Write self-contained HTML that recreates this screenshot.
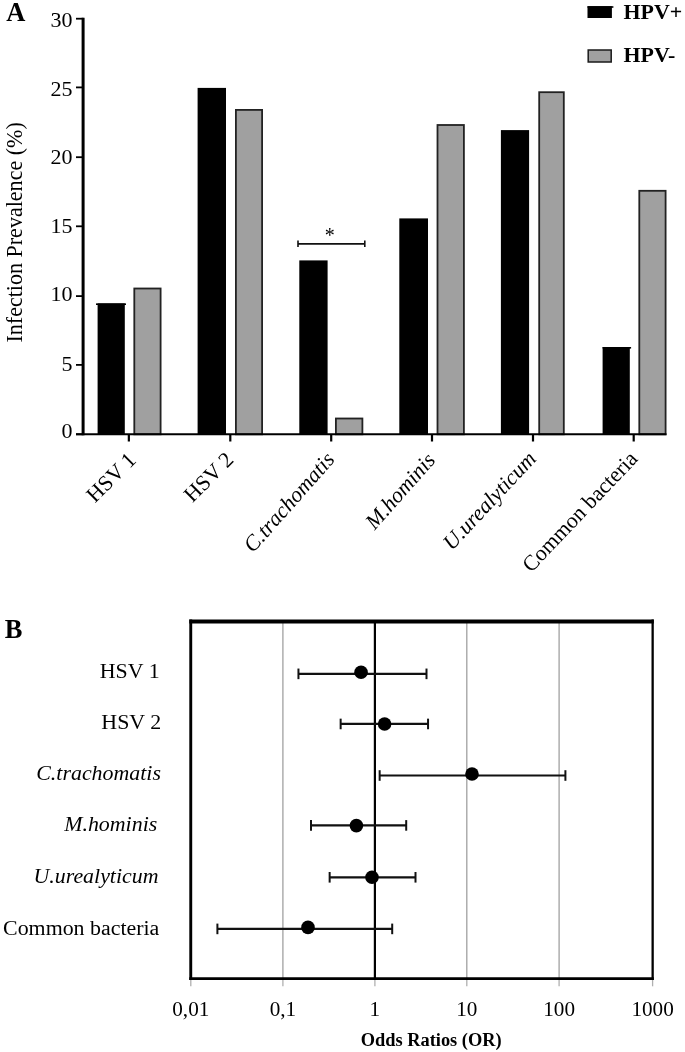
<!DOCTYPE html>
<html><head><meta charset="utf-8"><style>
html,body{margin:0;padding:0;background:#fff;}
body{width:685px;height:1052px;overflow:hidden;font-family:"Liberation Serif",serif;}
svg{display:block;filter:blur(0.3px);}
</style></head><body>
<svg width="685" height="1052" viewBox="0 0 685 1052" font-family="Liberation Serif, serif">
<rect width="685" height="1052" fill="#fff"/>
<text x="6.2" y="20.9" font-size="26.5" font-weight="bold">A</text>
<rect x="587.5" y="6.2" width="24.4" height="11.8" fill="#000"/>
<rect x="587.5" y="6.2" width="25.9" height="1.6" fill="#000"/>
<rect x="588.2" y="50" width="23" height="12" fill="#a0a0a0" stroke="#1a1a1a" stroke-width="1.5"/>
<text x="623.5" y="19.3" font-size="21.9" font-weight="bold">HPV+</text>
<text x="623.5" y="62.2" font-size="21.9" font-weight="bold">HPV-</text>
<rect x="97.6" y="303.4" width="27.20" height="130.90" fill="#000"/>
<rect x="96" y="303.4" width="30" height="1.6" fill="#000"/>
<rect x="134.30" y="288.50" width="26.30" height="145.80" fill="#a0a0a0" stroke="#222" stroke-width="1.8"/>
<rect x="197.6" y="87.9" width="28.40" height="346.40" fill="#000"/>
<rect x="235.90" y="109.90" width="26.20" height="324.40" fill="#a0a0a0" stroke="#222" stroke-width="1.8"/>
<rect x="299.3" y="260.4" width="28.30" height="173.90" fill="#000"/>
<rect x="335.90" y="418.50" width="26.50" height="15.80" fill="#a0a0a0" stroke="#222" stroke-width="1.8"/>
<rect x="399.3" y="218.4" width="28.70" height="215.90" fill="#000"/>
<rect x="437.50" y="125.00" width="26.40" height="309.30" fill="#a0a0a0" stroke="#222" stroke-width="1.8"/>
<rect x="500.9" y="130.1" width="28.20" height="304.20" fill="#000"/>
<rect x="539.20" y="92.20" width="24.60" height="342.10" fill="#a0a0a0" stroke="#222" stroke-width="1.8"/>
<rect x="602.6" y="347" width="27.20" height="87.30" fill="#000"/>
<rect x="602.6" y="347" width="28.50" height="1.6" fill="#000"/>
<rect x="639.30" y="190.80" width="26.30" height="243.50" fill="#a0a0a0" stroke="#222" stroke-width="1.8"/>
<line x1="83.1" y1="17.8" x2="83.1" y2="435.3" stroke="#000" stroke-width="3"/>
<line x1="76" y1="434.3" x2="666.5" y2="434.3" stroke="#000" stroke-width="2"/>
<line x1="76" y1="434.30" x2="83.5" y2="434.30" stroke="#000" stroke-width="1.8"/>
<text x="72.6" y="437.85" font-size="22" text-anchor="end">0</text>
<line x1="76" y1="364.90" x2="83.5" y2="364.90" stroke="#000" stroke-width="1.8"/>
<text x="72.6" y="370.70" font-size="22" text-anchor="end">5</text>
<line x1="76" y1="296.10" x2="83.5" y2="296.10" stroke="#000" stroke-width="1.8"/>
<text x="72.6" y="300.85" font-size="22" text-anchor="end">10</text>
<line x1="76" y1="226.30" x2="83.5" y2="226.30" stroke="#000" stroke-width="1.8"/>
<text x="72.6" y="232.60" font-size="22" text-anchor="end">15</text>
<line x1="76" y1="157.20" x2="83.5" y2="157.20" stroke="#000" stroke-width="1.8"/>
<text x="72.6" y="164.35" font-size="22" text-anchor="end">20</text>
<line x1="76" y1="87.40" x2="83.5" y2="87.40" stroke="#000" stroke-width="1.8"/>
<text x="72.6" y="95.55" font-size="22" text-anchor="end">25</text>
<line x1="76" y1="18.70" x2="83.5" y2="18.70" stroke="#000" stroke-width="1.8"/>
<text x="72.6" y="26.60" font-size="22" text-anchor="end">30</text>
<line x1="128.85" y1="434" x2="128.85" y2="441.5" stroke="#000" stroke-width="2.2"/>
<line x1="230.30" y1="434" x2="230.30" y2="441.5" stroke="#000" stroke-width="2.2"/>
<line x1="331.20" y1="434" x2="331.20" y2="441.5" stroke="#000" stroke-width="2.2"/>
<line x1="432.00" y1="434" x2="432.00" y2="441.5" stroke="#000" stroke-width="2.2"/>
<line x1="533.00" y1="434" x2="533.00" y2="441.5" stroke="#000" stroke-width="2.2"/>
<line x1="633.70" y1="434" x2="633.70" y2="441.5" stroke="#000" stroke-width="2.2"/>
<text transform="translate(22.2,232.4) rotate(-90)" font-size="22.05" text-anchor="middle">Infection Prevalence (%)</text>
<text transform="translate(137.35,461.30) rotate(-45)" font-size="21.9" text-anchor="end">HSV 1</text>
<text transform="translate(234.80,461.00) rotate(-45)" font-size="21.9" text-anchor="end">HSV 2</text>
<text transform="translate(335.70,460.20) rotate(-48.5)" font-size="21.9" text-anchor="end" font-style="italic">C.trachomatis</text>
<text transform="translate(436.50,460.80) rotate(-48.5)" font-size="21.9" text-anchor="end" font-style="italic">M.hominis</text>
<text transform="translate(537.20,459.70) rotate(-47)" font-size="21.9" text-anchor="end" font-style="italic">U.urealyticum</text>
<text transform="translate(638.80,459.80) rotate(-46.5)" font-size="21.9" text-anchor="end">Common bacteria</text>
<line x1="298" y1="243.9" x2="364.8" y2="243.9" stroke="#111" stroke-width="1.6"/>
<line x1="298" y1="240.5" x2="298" y2="247" stroke="#111" stroke-width="1.6"/>
<line x1="364.8" y1="240.5" x2="364.8" y2="247" stroke="#111" stroke-width="1.6"/>
<text x="329.8" y="241.8" font-size="20" text-anchor="middle">*</text>
<text x="4.7" y="637.9" font-size="26.5" font-weight="bold">B</text>
<line x1="190.8" y1="980" x2="190.8" y2="986.3" stroke="#b0b0b0" stroke-width="1.3"/>
<line x1="282.9" y1="621" x2="282.9" y2="978" stroke="#a0a0a0" stroke-width="1.3"/>
<line x1="282.9" y1="980" x2="282.9" y2="986.3" stroke="#b0b0b0" stroke-width="1.3"/>
<line x1="374.9" y1="980" x2="374.9" y2="986.3" stroke="#b0b0b0" stroke-width="1.3"/>
<line x1="466.8" y1="621" x2="466.8" y2="978" stroke="#a0a0a0" stroke-width="1.3"/>
<line x1="466.8" y1="980" x2="466.8" y2="986.3" stroke="#b0b0b0" stroke-width="1.3"/>
<line x1="559.1" y1="621" x2="559.1" y2="978" stroke="#a0a0a0" stroke-width="1.3"/>
<line x1="559.1" y1="980" x2="559.1" y2="986.3" stroke="#b0b0b0" stroke-width="1.3"/>
<line x1="652.6" y1="980" x2="652.6" y2="986.3" stroke="#b0b0b0" stroke-width="1.3"/>
<line x1="374.9" y1="621" x2="374.9" y2="978" stroke="#000" stroke-width="2.2"/>
<line x1="189.3" y1="621.5" x2="653.8" y2="621.5" stroke="#000" stroke-width="3.8"/>
<line x1="189.3" y1="978.6" x2="653.8" y2="978.6" stroke="#000" stroke-width="2.6"/>
<line x1="190.75" y1="619.6" x2="190.75" y2="979.9" stroke="#000" stroke-width="2.9"/>
<line x1="652.65" y1="619.6" x2="652.65" y2="979.9" stroke="#000" stroke-width="2.3"/>
<text x="190.8" y="1016.3" font-size="21.2" text-anchor="middle">0,01</text>
<text x="282.9" y="1016.3" font-size="21.2" text-anchor="middle">0,1</text>
<text x="374.9" y="1016.3" font-size="21.2" text-anchor="middle">1</text>
<text x="466.8" y="1016.3" font-size="21.2" text-anchor="middle">10</text>
<text x="559.1" y="1016.3" font-size="21.2" text-anchor="middle">100</text>
<text x="652.6" y="1016.3" font-size="21.2" text-anchor="middle">1000</text>
<text x="431.2" y="1046.2" font-size="18.4" font-weight="bold" text-anchor="middle">Odds Ratios (OR)</text>
<line x1="298.45" y1="673.85" x2="426.5" y2="673.85" stroke="#111" stroke-width="2.2"/>
<line x1="298.45" y1="668.55" x2="298.45" y2="679.15" stroke="#111" stroke-width="2"/>
<line x1="426.5" y1="668.55" x2="426.5" y2="679.15" stroke="#111" stroke-width="2"/>
<circle cx="361.05" cy="672.3" r="6.8" fill="#000"/>
<text x="159.6" y="677.8" font-size="21.9" text-anchor="end">HSV 1</text>
<line x1="340.65" y1="723.95" x2="428.05" y2="723.95" stroke="#111" stroke-width="2.2"/>
<line x1="340.65" y1="718.65" x2="340.65" y2="729.25" stroke="#111" stroke-width="2"/>
<line x1="428.05" y1="718.65" x2="428.05" y2="729.25" stroke="#111" stroke-width="2"/>
<circle cx="384.6" cy="724" r="6.8" fill="#000"/>
<text x="161.2" y="728.9" font-size="21.9" text-anchor="end">HSV 2</text>
<line x1="379.65" y1="775.50" x2="565.4" y2="775.50" stroke="#111" stroke-width="2.2"/>
<line x1="379.65" y1="770.20" x2="379.65" y2="780.80" stroke="#111" stroke-width="2"/>
<line x1="565.4" y1="770.20" x2="565.4" y2="780.80" stroke="#111" stroke-width="2"/>
<circle cx="472" cy="774" r="6.8" fill="#000"/>
<text x="160.95" y="779.9" font-size="21.9" text-anchor="end" font-style="italic">C.trachomatis</text>
<line x1="311" y1="825.40" x2="406.2" y2="825.40" stroke="#111" stroke-width="2.2"/>
<line x1="311" y1="820.10" x2="311" y2="830.70" stroke="#111" stroke-width="2"/>
<line x1="406.2" y1="820.10" x2="406.2" y2="830.70" stroke="#111" stroke-width="2"/>
<circle cx="356.4" cy="825.6" r="6.8" fill="#000"/>
<text x="157.25" y="831.0" font-size="21.9" text-anchor="end" font-style="italic">M.hominis</text>
<line x1="329.65" y1="877.30" x2="415.5" y2="877.30" stroke="#111" stroke-width="2.2"/>
<line x1="329.65" y1="872.00" x2="329.65" y2="882.60" stroke="#111" stroke-width="2"/>
<line x1="415.5" y1="872.00" x2="415.5" y2="882.60" stroke="#111" stroke-width="2"/>
<circle cx="372" cy="877.3" r="6.8" fill="#000"/>
<text x="158.5" y="882.9" font-size="21.9" text-anchor="end" font-style="italic">U.urealyticum</text>
<line x1="217.4" y1="928.90" x2="392.2" y2="928.90" stroke="#111" stroke-width="2.2"/>
<line x1="217.4" y1="923.60" x2="217.4" y2="934.20" stroke="#111" stroke-width="2"/>
<line x1="392.2" y1="923.60" x2="392.2" y2="934.20" stroke="#111" stroke-width="2"/>
<circle cx="308" cy="927.4" r="6.8" fill="#000"/>
<text x="159.3" y="934.9" font-size="21.9" text-anchor="end">Common bacteria</text>
</svg>
</body></html>
